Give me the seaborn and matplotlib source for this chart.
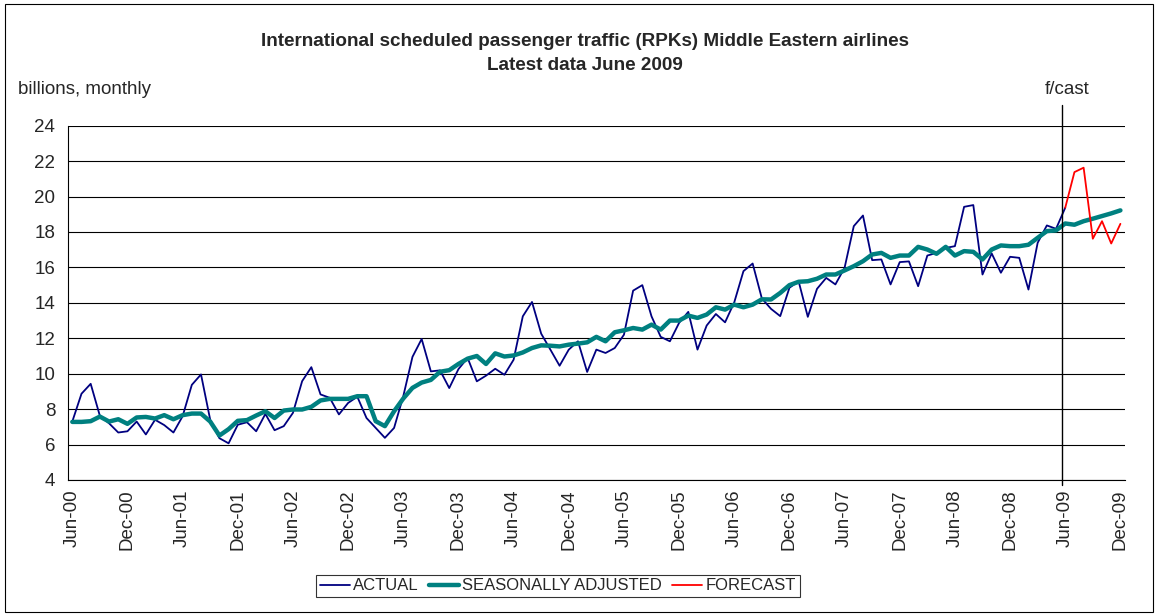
import matplotlib
matplotlib.use("Agg")
import matplotlib.pyplot as plt
from matplotlib.patches import Rectangle
from matplotlib.lines import Line2D
import numpy as np
import pandas as pd
import seaborn as sns

# monthly RPKs, billions, Jun-00 .. Jun-09
actual = [
    7.30, 8.87, 9.43, 7.62, 7.20, 6.68, 6.75, 7.30, 6.57, 7.40, 7.10, 6.68,
    7.60, 9.37, 9.96, 7.40, 6.36, 6.07, 7.12, 7.26, 6.75, 7.73, 6.81, 7.04,
    7.79, 9.58, 10.37, 8.83, 8.64, 7.70, 8.35, 8.70, 7.50, 6.94, 6.38, 6.94,
    8.73, 10.95, 11.96, 10.13, 10.19, 9.19, 10.26, 10.89, 9.57, 9.89, 10.28, 9.94,
    10.79, 13.24, 14.05, 12.26, 11.36, 10.45, 11.36, 11.83, 10.10, 11.36, 11.17, 11.45,
    12.20, 14.69, 15.00, 13.24, 12.08, 11.83, 12.87, 13.49, 11.36, 12.72, 13.37, 12.90,
    14.03, 15.79, 16.22, 14.25, 13.66, 13.25, 14.85, 15.22, 13.21, 14.79, 15.41, 15.04,
    15.98, 18.33, 18.93, 16.41, 16.45, 15.04, 16.30, 16.34, 14.94, 16.67, 16.82, 17.10,
    17.20, 19.42, 19.52, 15.60, 16.79, 15.70, 16.60, 16.54, 14.75, 17.39, 18.37, 18.18,
    19.37,
]

# Jun-00 .. Dec-09
seasonally_adjusted = [
    7.28, 7.28, 7.32, 7.58, 7.30, 7.43, 7.17, 7.53, 7.56, 7.47, 7.66, 7.43,
    7.66, 7.75, 7.75, 7.30, 6.51, 6.87, 7.34, 7.38, 7.64, 7.88, 7.50, 7.92,
    7.98, 7.98, 8.13, 8.49, 8.58, 8.58, 8.58, 8.73, 8.73, 7.32, 7.04, 7.88,
    8.60, 9.20, 9.50, 9.65, 10.11, 10.20, 10.55, 10.85, 11.00, 10.55, 11.15, 10.97,
    11.03, 11.20, 11.45, 11.60, 11.58, 11.54, 11.64, 11.70, 11.77, 12.08, 11.83, 12.34,
    12.45, 12.58, 12.49, 12.77, 12.49, 13.00, 13.00, 13.28, 13.15, 13.34, 13.75, 13.62,
    13.90, 13.75, 13.90, 14.20, 14.19, 14.56, 15.00, 15.19, 15.22, 15.36, 15.60, 15.60,
    15.83, 16.07, 16.35, 16.73, 16.82, 16.54, 16.67, 16.67, 17.16, 17.01, 16.77, 17.16,
    16.67, 16.92, 16.88, 16.45, 17.01, 17.24, 17.20, 17.20, 17.28, 17.67, 18.05, 18.09,
    18.48, 18.41, 18.61, 18.75, 18.90, 19.05, 19.22,
]

# Jun-09 .. Dec-09
forecast = [19.37, 21.38, 21.63, 17.62, 18.61, 17.35, 18.46]

tick_labels = [
    "Jun-00", "Dec-00", "Jun-01", "Dec-01", "Jun-02", "Dec-02", "Jun-03",
    "Dec-03", "Jun-04", "Dec-04", "Jun-05", "Dec-05", "Jun-06", "Dec-06",
    "Jun-07", "Dec-07", "Jun-08", "Dec-08", "Jun-09", "Dec-09",
]

sns.set_style("white")
plt.rcParams["font.family"] = ["Liberation Sans", "DejaVu Sans"]

df_act = pd.DataFrame({"pos": np.arange(len(actual)), "value": actual})
df_sa = pd.DataFrame({"pos": np.arange(len(seasonally_adjusted)), "value": seasonally_adjusted})
start = len(actual) - 1
df_fc = pd.DataFrame({"pos": np.arange(start, start + len(forecast)), "value": forecast})

W, H = 1159, 616
fig = plt.figure(figsize=(W / 100, H / 100), dpi=100)
ax = fig.add_axes([67.7 / W, 1 - 480 / H, (1125 - 67.7) / W, (480 - 125.7) / H])

c_act, c_sa, c_fc = "#000080", "#008080", "#FF0000"
sns.lineplot(data=df_act, x="pos", y="value", color=c_act, lw=1.3, ax=ax, legend=False, zorder=3)
sns.lineplot(data=df_sa, x="pos", y="value", color=c_sa, lw=3.2, ax=ax, legend=False, zorder=4)
sns.lineplot(data=df_fc, x="pos", y="value", color=c_fc, lw=1.3, ax=ax, legend=False, zorder=5)

n = len(seasonally_adjusted)
ax.set_xlim(-0.5, n - 0.5)
ax.set_ylim(4, 24)
ax.set_yticks(np.arange(4, 25, 2))
ax.yaxis.grid(True, color="black", lw=0.8)
ax.set_axisbelow(True)
ax.set_xticks(np.arange(0, n, 6))
ax.set_xticklabels(tick_labels, rotation=90)
ax.set_xticks(np.arange(-0.5, n, 6), minor=True)
ax.tick_params(axis="x", which="major", length=0, pad=7, labelsize=13.5)
ax.tick_params(axis="x", which="minor", length=5, width=0.8, color="black")
ax.tick_params(axis="y", length=5, width=0.8, color="black", labelsize=13.5, pad=4)
ax.set_xlabel("")
ax.set_ylabel("")
for s in ["top", "right"]:
    ax.spines[s].set_visible(False)
for s in ["left", "bottom"]:
    ax.spines[s].set_color("black")
    ax.spines[s].set_linewidth(0.8)

# forecast divider
ax.axvline(107.6, ymin=-0.015, ymax=(480 - 105) / (480 - 125.7), color="black", lw=1.0,
           clip_on=False, zorder=6)

fig.text(585 / W, 1 - 42 / H, "International scheduled passenger traffic (RPKs) Middle Eastern airlines",
         ha="center", va="center", fontsize=13.6, fontweight="bold")
fig.text(585 / W, 1 - 66 / H, "Latest data June 2009", ha="center", va="center",
         fontsize=13.6, fontweight="bold")
fig.text(18 / W, 1 - 90 / H, "billions, monthly", ha="left", va="center", fontsize=13.5)
fig.text(1067 / W, 1 - 90 / H, "f/cast", ha="center", va="center", fontsize=13.5)

handles = [
    Line2D([], [], color=c_act, lw=1.3),
    Line2D([], [], color=c_sa, lw=3.2),
    Line2D([], [], color=c_fc, lw=1.3),
]
leg = fig.legend(handles, ["ACTUAL", "SEASONALLY ADJUSTED", "FORECAST"], loc="center",
                 bbox_to_anchor=(558 / W, 1 - 586 / H), ncol=3, fontsize=12,
                 frameon=True, fancybox=False, shadow=False, handlelength=1.8,
                 handletextpad=0.2, columnspacing=0.6, borderpad=0.22, borderaxespad=0)
leg.get_frame().set_edgecolor("black")
leg.get_frame().set_linewidth(0.8)

fig.patches.append(Rectangle((5 / W, 4 / H), 1148 / W, 608 / H, transform=fig.transFigure,
                             fill=False, edgecolor="black", lw=0.8))

fig.savefig("out.png", dpi=100)
